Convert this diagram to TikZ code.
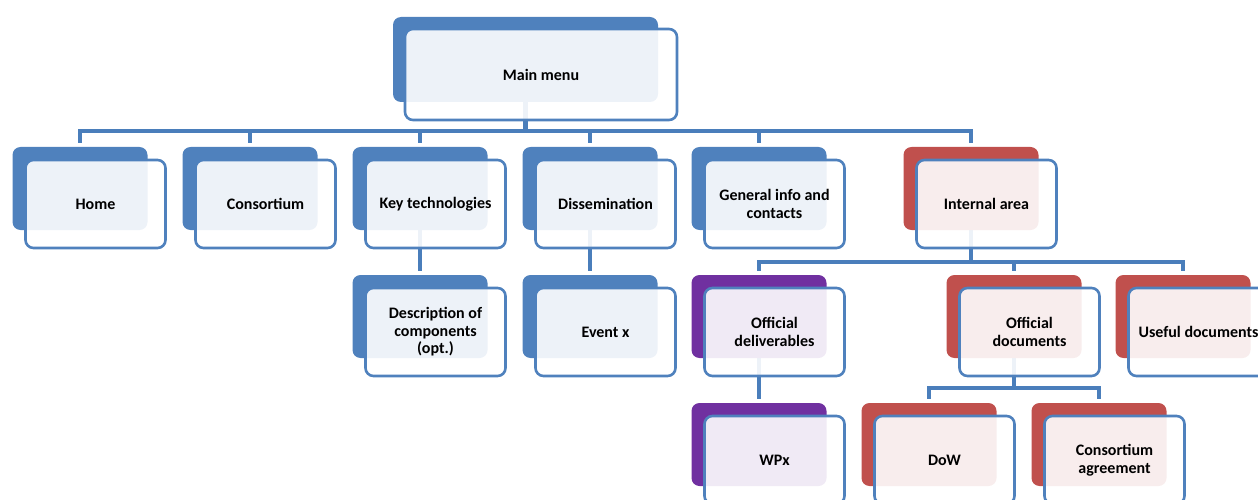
\documentclass[tikz,border=0pt]{standalone}
\usepackage{fontspec}
\setmainfont{Carlito}
\usepackage{xcolor}
\usetikzlibrary{backgrounds}
\definecolor{bluemain}{HTML}{4F81BD}
\definecolor{redmain}{HTML}{C0504D}
\definecolor{purplemain}{HTML}{7030A0}
\definecolor{linkblue}{HTML}{4A7EBB}
\tikzset{back/.style={fill=#1,rounded corners=8pt,minimum width=135pt,minimum height=83pt,inner sep=0pt},
front/.style={draw=bluemain,line width=2.6pt,rounded corners=8pt,fill=white,fill opacity=.9,text opacity=1,
  minimum width=140pt,minimum height=88pt,inner sep=0pt,align=center,font=\bfseries\fontsize{16}{17.5}\selectfont},
link/.style={linkblue,line width=4.5pt}}

\begin{document}
\begin{tikzpicture}[x=1pt,y=-1pt]
\useasboundingbox (0,0) rectangle (1258,500);
\clip (0,0) rectangle (1258,500);
\node[back=bluemain,minimum width=265pt,minimum height=85pt] (menu-bg) at (525.5,59.5) {};
\node[front,minimum width=272pt,minimum height=91pt] (menu) at (541,74.5) {Main menu};
\foreach \n/\x/\y/\c/\t in {home/80/188.5/bluemain/Home,consortium/250/188.5/bluemain/Consortium,
  keytech/420/188.5/bluemain/Key technologies,dissem/590/188.5/bluemain/Dissemination,
  general/759/188.5/bluemain/{General info and\\contacts},internal/971/188.5/redmain/Internal area,
  desc/420/316.5/bluemain/{Description of\\components\\(opt.)},event/590/316.5/bluemain/Event x,
  offdel/759/316.5/purplemain/{Official\\deliverables},offdoc/1014/316.5/redmain/{Official\\documents},
  useful/1183/316.5/redmain/Useful documents,wpx/759/444.5/purplemain/WPx,
  dow/929/444.5/redmain/DoW,agree/1099/444.5/redmain/{Consortium\\agreement}}{
  \node[back=\c] (\n-bg) at (\x,\y) {};
  \node[front] (\n) at ([shift={(15.5,15.5)}]\n-bg.center) {\t};
}
% connectors behind the cards
\begin{scope}[on background layer]
\coordinate (bus1) at (0,131);
\coordinate (bus2) at (0,262);
\coordinate (bus3) at (0,388);
\draw[link] (menu-bg.south) -- (menu-bg |- bus1);
\draw[link] ([yshift=4pt]home-bg.north) -- (home-bg |- bus1) -- (internal-bg |- bus1) -- ([yshift=4pt]internal-bg.north);
\foreach \n in {consortium,keytech,dissem,general} \draw[link] (\n-bg |- bus1) -- ([yshift=4pt]\n-bg.north);
\draw[link] (keytech-bg.south) -- ([yshift=4pt]desc-bg.north);
\draw[link] (dissem-bg.south) -- ([yshift=4pt]event-bg.north);
\draw[link] (internal-bg.south) -- (internal-bg |- bus2);
\draw[link] ([yshift=4pt]offdel-bg.north) -- (offdel-bg |- bus2) -- (useful-bg |- bus2) -- ([yshift=4pt]useful-bg.north);
\draw[link] (offdoc-bg |- bus2) -- ([yshift=4pt]offdoc-bg.north);
\draw[link] (offdel-bg.south) -- ([yshift=4pt]wpx-bg.north);
\draw[link] (offdoc-bg.south) -- (offdoc-bg |- bus3);
\draw[link] ([yshift=4pt]dow-bg.north) -- (dow-bg |- bus3) -- (agree-bg |- bus3) -- ([yshift=4pt]agree-bg.north);
\end{scope}
\end{tikzpicture}
\end{document}
